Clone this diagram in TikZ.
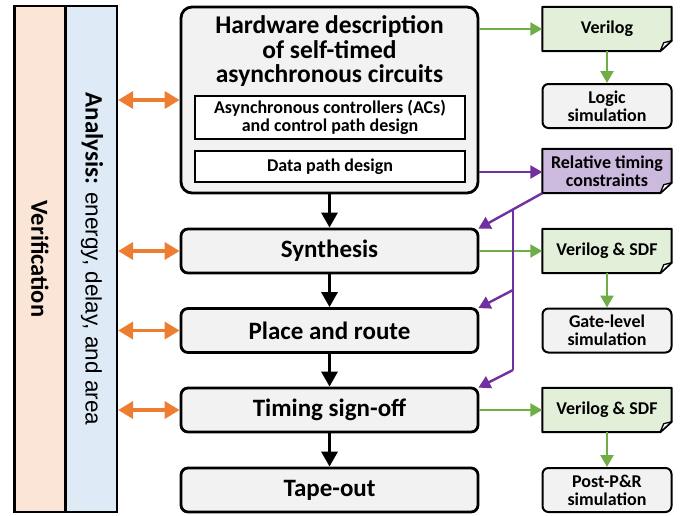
\documentclass[tikz,border=0pt]{standalone}
\usepackage{fontspec}
\setmainfont{Carlito}
\newfontfamily\arialfont{Liberation Sans}
\usetikzlibrary{arrows.meta,calc}

\definecolor{verfill}{RGB}{251,229,214}
\definecolor{anafill}{RGB}{222,235,247}
\definecolor{boxgray}{RGB}{242,242,242}
\definecolor{filegreen}{RGB}{226,240,217}
\definecolor{filepurple}{RGB}{204,185,222}
\definecolor{arrorange}{RGB}{237,125,49}
\definecolor{arrgreen}{RGB}{112,173,71}
\definecolor{arrpurple}{RGB}{112,48,160}

\tikzset{
  flowbox/.style={draw=black, line width=2.8pt, fill=boxgray, rounded corners=7pt,
    minimum width=297pt, minimum height=44pt, inner sep=0pt,
    font=\fontsize{25}{26}\selectfont\bfseries},
  innerbox/.style={draw=black, line width=2pt, fill=white, minimum width=270pt,
    inner sep=0pt, align=center, font=\fontsize{18}{17.5}\selectfont\bfseries},
  simbox/.style={draw=black, line width=2pt, fill=boxgray, rounded corners=6pt,
    minimum width=129pt, minimum height=44pt, inner sep=0pt, align=center,
    font=\fontsize{18}{18}\selectfont\bfseries},
  filebox/.style={inner sep=0pt, minimum width=129pt, minimum height=44pt, align=center,
    font=\fontsize{18}{18}\selectfont\bfseries},
  sidecol/.style={draw=black, line width=2.2pt, minimum width=51pt, minimum height=506pt, inner sep=0pt},
  flowarrow/.style={black, line width=3.2pt, -{Triangle[length=15pt,width=16pt]}},
  orangearrow/.style={arrorange, line width=3.6pt, {Triangle[length=15pt,width=17pt]}-{Triangle[length=15pt,width=17pt]}},
  greenarrow/.style={arrgreen, line width=2.4pt, -{Triangle[length=12pt,width=13pt]}},
  purplearrow/.style={arrpurple, line width=2.4pt, -{Triangle[length=12pt,width=13pt]}},
  purpleline/.style={arrpurple, line width=2.4pt},
}

% file shape with a folded bottom-right corner
\newcommand{\foldfile}[3]{% name, fill colour, text
  \path[draw=black, line width=2pt, fill=#2, line join=round]
    (#1.north west) -- (#1.north east) -- ($(#1.south east)+(0,-10.5)$)
    -- ($(#1.south east)+(-11.5,0)$) -- (#1.south west) -- cycle;
  \path[draw=black, line width=1.3pt, fill=white, line join=round]
    ($(#1.south east)+(0,-10.5)$) -- ($(#1.south east)+(-8,-8.5)$)
    -- ($(#1.south east)+(-11.5,0)$) -- cycle;
  \node[filebox] at (#1) {#3};
}

\begin{document}
\begin{tikzpicture}[x=1pt,y=-1pt]
\useasboundingbox (0,0) rectangle (683,515);

% side columns
\node[sidecol, fill=verfill] (ver) at (40,259) {};
\node[sidecol, fill=anafill] (ana) at (91.5,259) {};
\node[rotate=-90, font=\fontsize{24.5}{26}\selectfont\bfseries] (vertext) at (ver) {Verification};
\node[rotate=-90, font=\fontsize{25}{26}\selectfont] (anatext) at (92,259)
  {\textbf{Analysis:} {\arialfont\fontsize{22.5}{26}\selectfont energy, delay, and area}};

% main flow
\node[flowbox, rounded corners=11pt, minimum height=186pt] (hw) at (329.5,100) {};
\node[align=center, font=\fontsize{25.5}{24.5}\selectfont\bfseries] (hwtitle) at (329.5,51.5)
  {Hardware description\\of self-timed\\asynchronous circuits};
\node[innerbox, minimum height=43pt] (ctrl) at (330,117.5)
  {Asynchronous controllers (ACs)\\and control path design};
\node[innerbox, minimum height=31pt] (dp) at (330,166.5) {Data path design};

\node[flowbox] (syn) at (329.5,251) {Synthesis};
\node[flowbox] (pr) at (329.5,330.5) {Place and route};
\node[flowbox] (ts) at (329.5,410) {Timing sign-off};
\node[flowbox] (to) at (329.5,490) {Tape-out};

\draw[flowarrow] (hw.south) -- (syn.north);
\draw[flowarrow] (syn.south) -- (pr.north);
\draw[flowarrow] (pr.south) -- (ts.north);
\draw[flowarrow] (ts.south) -- (to.north);

% analysis links
\draw[orangearrow] (ana.east |- 0,100) -- (hw.west |- 0,100);
\draw[orangearrow] (ana.east |- syn.west) -- (syn.west);
\draw[orangearrow] (ana.east |- pr.west) -- (pr.west);
\draw[orangearrow] (ana.east |- ts.west) -- (ts.west);

% right column
\path (607,29) node[filebox] (vlog) {};
\foldfile{vlog}{filegreen}{Verilog}
\node[simbox] (lsim) at (607,106) {Logic\\simulation};
\path (607,171) node[filebox] (rtc) {};
\foldfile{rtc}{filepurple}{Relative timing\\constraints}
\path (607,251) node[filebox] (vsdf) {};
\foldfile{vsdf}{filegreen}{Verilog \& SDF}
\node[simbox] (gsim) at (607,330.5) {Gate-level\\simulation};
\path (607,410) node[filebox] (vsdfb) {};
\foldfile{vsdfb}{filegreen}{Verilog \& SDF}
\node[simbox] (psim) at (607,490) {Post-P\&R\\simulation};

\draw[greenarrow] (hw.east |- vlog.west) -- (vlog.west);
\draw[greenarrow] (vlog.south) -- (lsim.north);
\draw[greenarrow] (syn.east) -- (vsdf.west);
\draw[greenarrow] (vsdf.south) -- (gsim.north);
\draw[greenarrow] (ts.east) -- (vsdfb.west);
\draw[greenarrow] (vsdfb.south) -- (psim.north);

% relative timing constraints distribution
\draw[purplearrow] (hw.east |- 0,172) -- (rtc.west |- 0,172);
\coordinate (rttop) at (513,209.8);
\coordinate (rtmid) at (513,290);
\coordinate (rtbot) at (513,370);
\draw[purplearrow] (rtc.south west) -- ($(syn.north east)+(-1,1)$);
\draw[purpleline] (rttop) -- (rtbot);
\draw[purplearrow] (rtmid) -- ($(pr.north east)+(-1,1)$);
\draw[purplearrow] (rtbot) -- ($(ts.north east)+(-1,1)$);
\end{tikzpicture}
\end{document}
